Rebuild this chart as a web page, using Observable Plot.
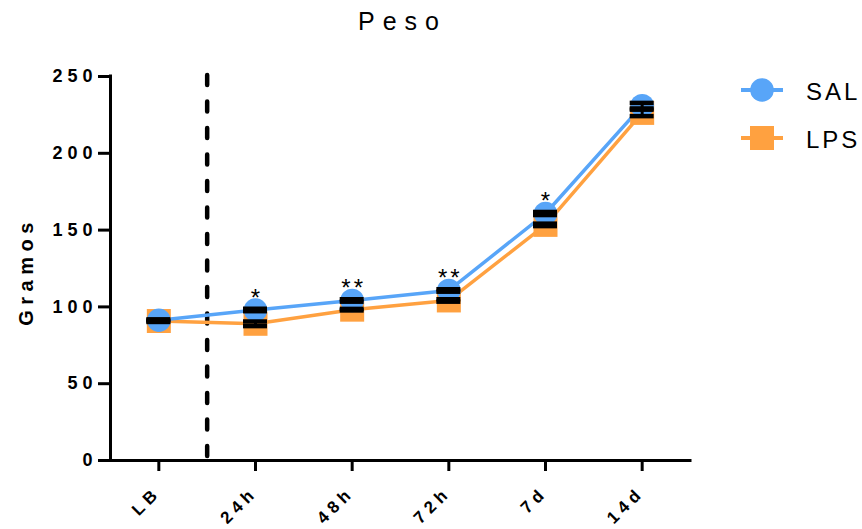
<!DOCTYPE html>
<html><head><meta charset="utf-8">
<script src="https://cdn.jsdelivr.net/npm/d3@7"></script>
<script src="https://cdn.jsdelivr.net/npm/@observablehq/plot@0.6"></script>
<style>
body{margin:0;background:#fff;}
#wrap{position:relative;width:862px;height:529px;overflow:hidden;}
#legend{position:absolute;left:0;top:0;pointer-events:none;}
</style></head><body>
<div id="wrap"><div id="chart"></div><svg id="legend" width="862" height="529"></svg></div>
<script>
const categories = ["LB", "24h", "48h", "72h", "7d", "14d"];
const salMean = [91.3, 98.0, 104.2, 110.7, 160.8, 231.0];
const salSem  = [0.6, 0.8, 0.8, 0.8, 1.0, 1.8];
const lpsMean = [90.8, 89.0, 98.2, 104.2, 153.4, 226.3];
const lpsSem  = [0.6, 1.5, 0.5, 0.8, 0.8, 2.1];
const stars   = ["", "*", "**", "**", "*", ""];
const yTicks  = [0, 50, 100, 150, 200, 250];
const seriesNames = ["SAL", "LPS"];
const titleText = "Peso";
const yLabel = "Gramos";

const BLUE = "#58A5F8", ORANGE = "#FFA140";
const FONT = '"Liberation Sans", Arial, Helvetica, sans-serif';
const idx = categories.map((_, i) => i);
const xDomain = [-0.5, categories.length - 0.5];
const sal = idx.map(i => ({i, mean: salMean[i], sem: salSem[i], star: stars[i]}));
const lps = idx.map(i => ({i, mean: lpsMean[i], sem: lpsSem[i]}));
const capHalf = 0.124;

function errorBars(d) {
  return [
    Plot.ruleX(d, {x: "i", y1: r => r.mean - r.sem, y2: r => r.mean + r.sem, stroke: "#000", strokeWidth: 3}),
    Plot.ruleY(d, {y: r => r.mean - r.sem, x1: r => r.i - capHalf, x2: r => r.i + capHalf, stroke: "#000", strokeWidth: 4.5}),
    Plot.ruleY(d, {y: r => r.mean + r.sem, x1: r => r.i - capHalf, x2: r => r.i + capHalf, stroke: "#000", strokeWidth: 4.5})
  ];
}

const chart = Plot.plot({
  width: 862, height: 529,
  marginTop: 76, marginBottom: 69, marginLeft: 110, marginRight: 172,
  x: {domain: xDomain, axis: null, label: null},
  y: {domain: [0, 250], axis: null, label: null},
  style: {fontFamily: FONT, color: "#000", background: "#fff", overflow: "visible"},
  marks: [
    Plot.ruleX([0.5], {y1: 250, y2: 0, stroke: "#000", strokeWidth: 4.5, strokeDasharray: "10,16.5", strokeLinecap: "round", insetTop: -1}),
    Plot.line(lps, {x: "i", y: "mean", stroke: ORANGE, strokeWidth: 3.5}),
    Plot.line(sal, {x: "i", y: "mean", stroke: BLUE, strokeWidth: 3.5}),
    Plot.dot(lps, {x: "i", y: "mean", symbol: "square", r: 13.54, fill: ORANGE}),
    Plot.dot(sal, {x: "i", y: "mean", symbol: "circle", r: 11.8, fill: BLUE}),
    ...errorBars(lps),
    ...errorBars(sal),
    Plot.text(sal.filter(d => d.star), {x: "i", y: "mean", text: "star", lineAnchor: "middle", dy: -12, dx: 1.5, fontSize: 24, fill: "#000"}),
    Plot.ruleX([xDomain[0]], {y1: 0, y2: 250, stroke: "#000", strokeWidth: 3, strokeLinecap: "square"}),
    Plot.ruleY([0], {stroke: "#000", strokeWidth: 3, strokeLinecap: "square"}),
    Plot.axisY({ticks: yTicks, tickSize: 12, tickPadding: 1, fontSize: 18, fontWeight: "bold", strokeWidth: 3, label: null, tickFormat: d => String(d)}),
    Plot.axisX({ticks: idx, tickSize: 11, strokeWidth: 3, label: null, tickFormat: () => ""}),
    Plot.text(idx, {x: d => d, frameAnchor: "bottom", text: d => categories[d], rotate: -45, textAnchor: "end", dy: 33, dx: 3, fontSize: 17, fontWeight: "bold"}),
    Plot.text([yLabel], {frameAnchor: "left", textAnchor: "middle", lineAnchor: "middle", dx: -84, dy: 3, rotate: -90, fontSize: 20, fontWeight: "bold"}),
    Plot.text([titleText], {frameAnchor: "top", textAnchor: "middle", lineAnchor: "middle", dy: -55, dx: 2, fontSize: 25})
  ]
});
document.getElementById("chart").appendChild(chart);

// letter spacing, as in the reference's typesetting
d3.select(chart).selectAll("text").each(function () {
  const t = this.textContent;
  let ls = null;
  if (categories.includes(t)) ls = "5px";
  else if (t === yLabel) ls = "5.5px";
  else if (t === titleText) ls = "8px";
  else if (stars.includes(t) && t) ls = "3px";
  else if (yTicks.map(String).includes(t)) ls = "5px";
  if (ls) this.setAttribute("letter-spacing", ls);
});

// legend
const lg = d3.select("#legend");
const colors = [BLUE, ORANGE];
const rows = [90, 138];
seriesNames.forEach((name, k) => {
  const cy = rows[k];
  lg.append("line").attr("x1", 741).attr("x2", 783).attr("y1", cy).attr("y2", cy)
    .attr("stroke", colors[k]).attr("stroke-width", 4);
  if (k === 0) {
    lg.append("circle").attr("cx", 762).attr("cy", cy).attr("r", 11.8).attr("fill", colors[k]);
  } else {
    lg.append("rect").attr("x", 750).attr("y", cy - 12).attr("width", 24).attr("height", 24).attr("fill", colors[k]);
  }
  lg.append("text").attr("x", 806).attr("y", cy + 10).text(name)
    .attr("font-family", FONT).attr("font-size", 24).attr("letter-spacing", "3px").attr("fill", "#000");
});
</script>
</body></html>
